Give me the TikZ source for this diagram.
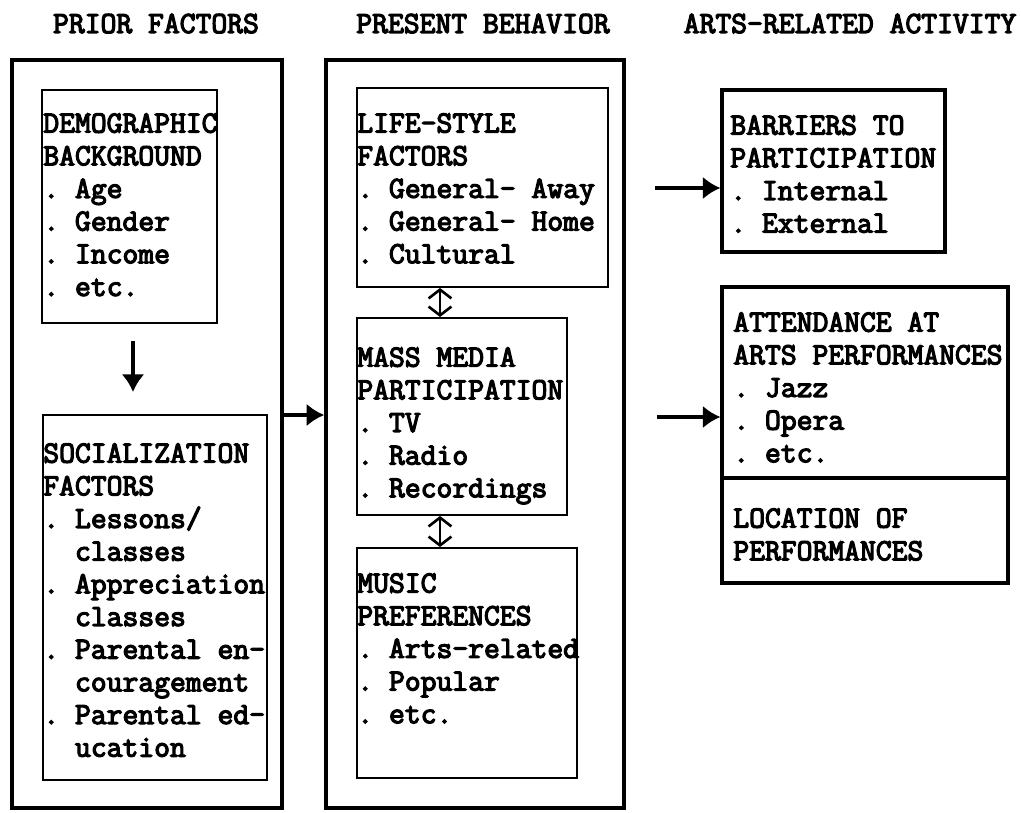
\documentclass[tikz,border=0pt]{standalone}
\usepackage{fontspec}
\setmonofont{Latin Modern Mono}[AutoFakeBold=4]
\usetikzlibrary{arrows.meta,fit}

\tikzset{
  bigbox/.style={draw, line width=2pt, inner sep=0pt},
  smallbox/.style={draw, line width=1.1pt, inner sep=0pt},
  heavybox/.style={draw, line width=1.8pt, inner sep=0pt},
  boxtext/.style={anchor=north west, inner sep=0pt, align=left,
    font=\ttfamily\bfseries\fontsize{17.5}{18.6}\selectfont},
  headtext/.style={anchor=base, inner sep=0pt,
    font=\ttfamily\bfseries\fontsize{17.5}{18.6}\selectfont},
  arr/.style={line width=2pt, -{Latex[length=10pt,width=13pt]}},
  dblarr/.style={line width=1.5pt,
    {Straight Barb[length=5pt,width=13pt]}-{Straight Barb[length=5pt,width=13pt]}}
}

\begin{document}
\begin{tikzpicture}[x=0.02cm,y=-0.02cm]

        \useasboundingbox (0,0) rectangle (1021,813);

        \node[headtext] (priorhead) at (156,33) {PRIOR FACTORS};
        \node[headtext] (presenthead) at (483,33) {PRESENT BEHAVIOR};
        \node[headtext] (artshead) at (850,33) {ARTS-RELATED ACTIVITY};

        \node[bigbox, fit={(12,60) (282,808)}] (prior) {};
        \node[bigbox, fit={(326,60) (624,808)}] (present) {};

        \node[smallbox, fit={(42,90) (217,323)}] (demo) {};
        \node[smallbox, fit={(43,415) (267,780)}] (social) {};
        \node[smallbox, fit={(357,88) (608,287)}] (life) {};
        \node[smallbox, fit={(357,318) (567,515)}] (media) {};
        \node[smallbox, fit={(357,548) (577,778)}] (music) {};
        \node[heavybox, fit={(722,90) (945,252)}] (barriers) {};
        \node[heavybox, fit={(722,287) (1008,478)}] (attend) {};
        \node[heavybox, fit={(722,478) (1008,583)}] (location) {};

        \node[boxtext] (demotext) at (43,113) {DEMOGRAPHIC\\BACKGROUND\\. Age\\. Gender\\. Income\\. etc.};
        \node[boxtext] (socialtext) at (43,443) {SOCIALIZATION\\FACTORS\\. Lessons/\\\hphantom{. }classes\\. Appreciation\\\hphantom{. }classes\\. Parental en-\\\hphantom{. }couragement\\. Parental ed-\\\hphantom{. }ucation};
        \node[boxtext] (lifetext) at (357,113) {LIFE-STYLE\\FACTORS\\. General- Away\\. General- Home\\. Cultural};
        \node[boxtext] (mediatext) at (357,347) {MASS MEDIA\\PARTICIPATION\\. TV\\. Radio\\. Recordings};
        \node[boxtext] (musictext) at (357,573) {MUSIC\\PREFERENCES\\. Arts-related\\. Popular\\. etc.};
        \node[boxtext] (barrierstext) at (730,115) {BARRIERS TO\\PARTICIPATION\\. Internal\\. External};
        \node[boxtext] (attendtext) at (733,312) {ATTENDANCE AT\\ARTS PERFORMANCES\\. Jazz\\. Opera\\. etc.};
        \node[boxtext] (locationtext) at (733,508) {LOCATION OF\\PERFORMANCES};

        \coordinate (downx) at (133,0);
        \coordinate (midy) at (0,415);
        \coordinate (dblx) at (440,0);
        \coordinate (bstart) at (655,188);
        \coordinate (astart) at (657,417);

        \draw[arr, shorten <=0.34cm, shorten >=0.44cm] (demo.south -| downx) -- (social.north -| downx);
        \draw[arr] (prior.east |- midy) -- (present.west |- midy);
        \draw[dblarr] (life.south -| dblx) -- (media.north -| dblx);
        \draw[dblarr] (media.south -| dblx) -- (music.north -| dblx);
        \draw[arr] (bstart) -- (barriers.west |- bstart);
        \draw[arr] (astart) -- (attend.west |- astart);

    \end{tikzpicture}
\end{document}
